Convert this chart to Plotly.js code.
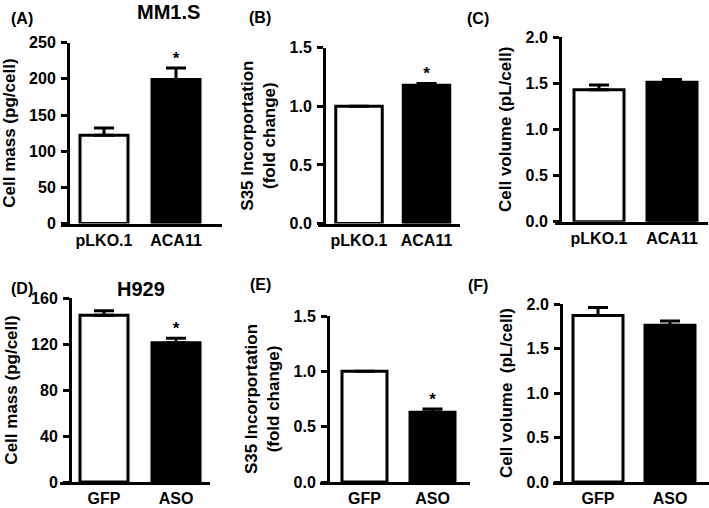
<!DOCTYPE html>
<html>
<head>
<meta charset="utf-8">
<script src="https://cdn.plot.ly/plotly-3.0.1.min.js"></script>
<style>html,body{margin:0;padding:0;background:#fff;}#chart{width:709px;height:508px;}</style>
</head>
<body>
<div id="chart"></div>
<script>
// ---- data ----
const catsMM1S = ['pLKO.1', 'ACA11'];
const catsH929 = ['GFP', 'ASO'];

const massMM1S = [122, 199];
const massMM1SErr = [10, 16];
const s35MM1S = [1.0, 1.18];
const s35MM1SErr = [0, 0.015];
const volMM1S = [1.43, 1.51];
const volMM1SErr = [0.05, 0.03];

const massH929 = [145, 121];
const massH929Err = [4, 4];
const s35H929 = [1.0, 0.63];
const s35H929Err = [0, 0.03];
const volH929 = [1.87, 1.76];
const volH929Err = [0.09, 0.05];

const sigMassMM1S = ['', '*'];
const sigS35MM1S = ['', '*'];
const sigVolMM1S = ['', ''];
const sigMassH929 = ['', '*'];
const sigS35H929 = ['', '*'];
const sigVolH929 = ['', ''];

const ticksMass250 = [0, 50, 100, 150, 200, 250];
const ticksMass160 = [0, 40, 80, 120, 160];
const ticksS35 = [0, 0.5, 1.0, 1.5];
const ticksVol = [0, 0.5, 1.0, 1.5, 2.0];

const panelLabels = ['(A)', '(B)', '(C)', '(D)', '(E)', '(F)'];
const cellLines = ['MM1.S', 'H929'];

const titleMass = 'Cell mass (pg/cell)';
const titleS35 = 'S35 Incorportation<br>(fold change)';
const titleVolTop = 'Cell volume (pL/cell)';
const titleVolBottom = 'Cell volume  (pL/cell)';

// ---- layout geometry (pixels) ----
const W = 709, H = 508;
const FONT = 'Liberation Sans, Arial, Helvetica, sans-serif';
const barColors = ['white', 'black'];

const panels = [
  {cats: catsMM1S, vals: massMM1S, err: massMM1SErr, sig: sigMassMM1S, ticks: ticksMass250, fmt: '', ymax: 250, title: titleMass,
   xl: 61, xr: 222, c0: 104, c1: 176, bw: 48, yax: 68, yt: 42.7, yb: 223.5},
  {cats: catsMM1S, vals: s35MM1S, err: s35MM1SErr, sig: sigS35MM1S, ticks: ticksS35, fmt: '.1f', ymax: 1.5, title: titleS35,
   xl: 318, xr: 460, c0: 359, c1: 426.5, bw: 46.5, yax: 324, yt: 47.7, yb: 223.5},
  {cats: catsMM1S, vals: volMM1S, err: volMM1SErr, sig: sigVolMM1S, ticks: ticksVol, fmt: '.1f', ymax: 2.0, title: titleVolTop,
   xl: 555, xr: 708, c0: 599, c1: 672, bw: 50, yax: 560, yt: 37, yb: 221.7},
  {cats: catsH929, vals: massH929, err: massH929Err, sig: sigMassH929, ticks: ticksMass160, fmt: '', ymax: 160, title: titleMass,
   xl: 60, xr: 210, c0: 104, c1: 176, bw: 48, yax: 70, yt: 298, yb: 482},
  {cats: catsH929, vals: s35H929, err: s35H929Err, sig: sigS35H929, ticks: ticksS35, fmt: '.1f', ymax: 1.5, title: titleS35,
   xl: 320, xr: 470, c0: 364.5, c1: 432.5, bw: 45, yax: 328, yt: 316, yb: 482},
  {cats: catsH929, vals: volH929, err: volH929Err, sig: sigVolH929, ticks: ticksVol, fmt: '.1f', ymax: 2.0, title: titleVolBottom,
   xl: 553, xr: 709, c0: 598, c1: 670, bw: 50, yax: 561, yt: 304, yb: 482}
];

const labelPos = [[22, 18], [260, 17], [478, 18], [22, 288], [260, 284], [478, 285]];
const linePos = [[168, 12], [141, 289]];

const data = [];
const layout = {
  width: W, height: H,
  margin: {l: 0, r: 0, t: 0, b: 0},
  showlegend: false,
  paper_bgcolor: 'white',
  plot_bgcolor: 'rgba(0,0,0,0)',
  font: {family: FONT, color: 'black', weight: 'bold'},
  annotations: []
};

panels.forEach((p, i) => {
  const k = i === 0 ? '' : String(i + 1);
  const unit = p.c1 - p.c0;
  const xr0 = -(p.c0 - p.xl) / unit;
  const xr1 = 1 + (p.xr - p.c1) / unit;
  data.push({
    type: 'bar', x: p.cats, y: p.vals,
    xaxis: 'x' + k, yaxis: 'y' + k,
    width: p.bw / unit,
    marker: {color: barColors, line: {color: 'black', width: 3}},
    error_y: {type: 'data', symmetric: false, array: p.err, arrayminus: [0, 0],
              color: 'black', thickness: 3, width: 10},
    hoverinfo: 'none'
  });
  data.push({
    type: 'scatter', mode: 'text', x: p.cats,
    y: p.vals.map((v, j) => v + p.err[j]),
    text: p.sig, textposition: 'top center',
    textfont: {family: FONT, size: 17, weight: 'bold', color: 'black'},
    cliponaxis: false,
    xaxis: 'x' + k, yaxis: 'y' + k, hoverinfo: 'none'
  });
  layout['xaxis' + k] = {
    domain: [p.xl / W, p.xr / W], anchor: 'y' + k,
    type: 'category', range: [xr0, xr1],
    showline: true, linewidth: 3, linecolor: 'black',
    ticks: '', showgrid: false, zeroline: false,
    tickfont: {family: FONT, size: 16, weight: 'bold', color: 'black'},
    ticklabelstandoff: 0, fixedrange: true
  };
  layout['yaxis' + k] = {
    domain: [1 - p.yb / H, 1 - p.yt / H], anchor: 'free', position: p.yax / W,
    range: [0, p.ymax], tickvals: p.ticks, tickformat: p.fmt,
    ticks: 'outside', ticklen: 6, tickwidth: 3, tickcolor: 'black',
    showline: true, linewidth: 3, linecolor: 'black',
    showgrid: false, zeroline: false,
    tickfont: {family: FONT, size: 16, weight: 'bold', color: 'black'},
    ticklabelstandoff: 2,
    title: {text: p.title, font: {family: FONT, size: 17, weight: 'bold', color: 'black'}, standoff: 8},
    fixedrange: true
  };
  layout.annotations.push({
    text: panelLabels[i], xref: 'paper', yref: 'paper',
    x: labelPos[i][0] / W, y: 1 - labelPos[i][1] / H,
    xanchor: 'center', yanchor: 'middle', showarrow: false,
    font: {family: FONT, size: 16, weight: 'bold', color: 'black'}
  });
});

cellLines.forEach((t, i) => {
  layout.annotations.push({
    text: t, xref: 'paper', yref: 'paper',
    x: linePos[i][0] / W, y: 1 - linePos[i][1] / H,
    xanchor: 'center', yanchor: 'middle', showarrow: false,
    font: {family: FONT, size: 20, weight: 'bold', color: 'black'}
  });
});

Plotly.newPlot('chart', data, layout, {displayModeBar: false, staticPlot: true});
</script>
</body>
</html>
